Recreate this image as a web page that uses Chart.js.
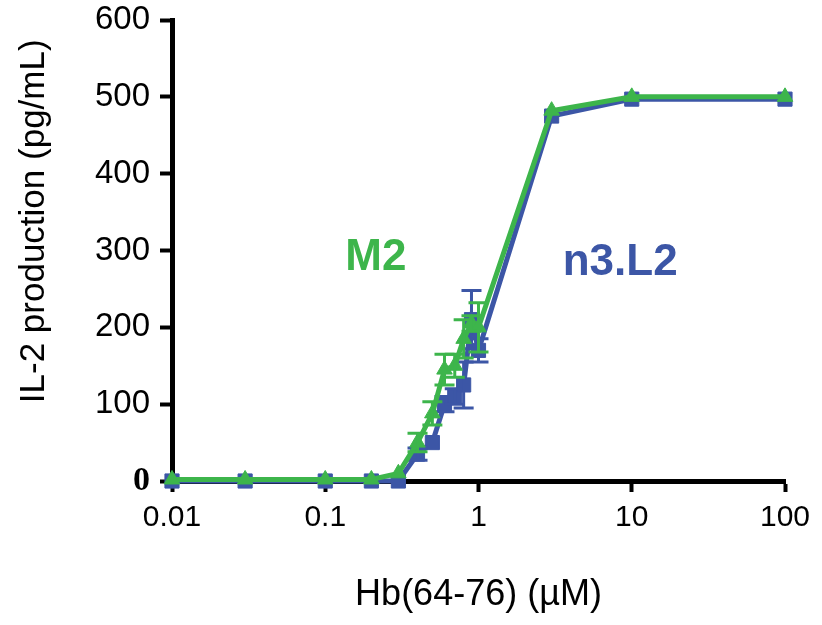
<!DOCTYPE html>
<html>
<head>
<meta charset="utf-8">
<script src="https://cdn.jsdelivr.net/npm/chart.js@4"></script>
<style>
  html, body { margin: 0; padding: 0; background: #fff; }
  #wrap { width: 822px; height: 625px; }
</style>
</head>
<body>
<div id="wrap"><canvas id="ilChart"></canvas></div>
<script>
  // concentrations (uM)
  const doses = [0.01, 0.03, 0.1, 0.2, 0.3, 0.4, 0.5, 0.6, 0.7, 0.8, 0.9, 1, 3, 10, 100];

  // IL-2 (pg/mL)
  const n3L2Values = [0, 0, 0, 0, 0, 35, 50, 100, 110, 125, 210, 170, 475, 497, 497];
  const n3L2Errors = [0, 0, 0, 0, 0, 8, 0, 10, 10, 30, 38, 15, 0, 0, 0];
  const m2Values = [2, 2, 2, 2, 10, 50, 88, 145, 150, 185, 205, 200, 482, 500, 500];
  const m2Errors = [0, 0, 0, 0, 0, 12, 15, 20, 15, 25, 10, 32, 0, 0, 0];

  const xTicks = [0.01, 0.1, 1, 10, 100];
  const xTickLabels = ["0.01", "0.1", "1", "10", "100"];

  const blue = "#3c56a6";
  const green = "#3db54b";
  const sans = "'Liberation Sans', Arial, sans-serif";

  function toPoints(vals) {
    return doses.map((d, i) => ({ x: d, y: vals[i] }));
  }

  // error bars, drawn with the chart's own scales
  const errorBars = {
    id: "errorBars",
    afterDatasetDraw(chart, args) {
      const ds = chart.data.datasets[args.index];
      if (!ds.errors) return;
      const xs = chart.scales.x, ys = chart.scales.y;
      const ctx = chart.ctx;
      ctx.save();
      ctx.strokeStyle = ds.borderColor;
      ctx.lineWidth = 3;
      ds.data.forEach((p, i) => {
        const e = ds.errors[i];
        if (!e) return;
        const px = xs.getPixelForValue(p.x);
        const top = ys.getPixelForValue(p.y + e);
        const bot = ys.getPixelForValue(p.y - e);
        ctx.beginPath();
        ctx.moveTo(px, top); ctx.lineTo(px, bot);
        ctx.moveTo(px - 10, top); ctx.lineTo(px + 10, top);
        ctx.moveTo(px - 10, bot); ctx.lineTo(px + 10, bot);
        ctx.stroke();
      });
      ctx.restore();
    }
  };

  // series names inside the plot + y axis title
  const textLayer = {
    id: "textLayer",
    afterDraw(chart) {
      const xs = chart.scales.x, ys = chart.scales.y;
      const ctx = chart.ctx;
      ctx.save();
      ctx.font = "bold 44px " + sans;
      ctx.textAlign = "center";
      ctx.textBaseline = "middle";
      ctx.fillStyle = green;
      ctx.fillText("M2", xs.getPixelForValue(0.214), ys.getPixelForValue(290));
      ctx.fillStyle = blue;
      ctx.fillText("n3.L2", xs.getPixelForValue(8.4), ys.getPixelForValue(284));

      ctx.fillStyle = "#000";
      ctx.font = "35px " + sans;
      ctx.translate(34, ys.getPixelForValue(338));
      ctx.rotate(-Math.PI / 2);
      ctx.fillText("IL-2 production (pg/mL)", 0, 0);
      ctx.restore();
    }
  };

  const ctx = document.getElementById("ilChart").getContext("2d");
  new Chart(ctx, {
    type: "line",
    data: {
      datasets: [
        {
          label: "M2",
          data: toPoints(m2Values),
          errors: m2Errors,
          borderColor: green,
          backgroundColor: green,
          borderWidth: 5,
          pointStyle: "triangle",
          pointRadius: 9,
          pointBorderWidth: 1,
          tension: 0,
          clip: false,
          order: 0
        },
        {
          label: "n3.L2",
          data: toPoints(n3L2Values),
          errors: n3L2Errors,
          borderColor: blue,
          backgroundColor: blue,
          borderWidth: 5,
          pointStyle: "rect",
          pointRadius: 10,
          pointBorderWidth: 1,
          tension: 0,
          clip: false,
          order: 1
        }
      ]
    },
    options: {
      responsive: true,
      maintainAspectRatio: false,
      animation: false,
      layout: { padding: { left: 0, top: 20, right: 37, bottom: 8 } },
      plugins: {
        legend: { display: false },
        tooltip: { enabled: false }
      },
      scales: {
        x: {
          type: "logarithmic",
          min: 0.01,
          max: 100,
          afterBuildTicks(scale) {
            scale.ticks = xTicks.map(v => ({ value: v }));
          },
          afterFit(scale) { scale.height = 136; },
          border: { display: true, color: "#000", width: 5 },
          grid: { drawOnChartArea: false, color: "#000", tickLength: 11, tickWidth: 4 },
          ticks: {
            color: "#000",
            padding: 8,
            maxRotation: 0,
            autoSkip: false,
            font: { family: sans, size: 30 },
            callback: (v, i) => xTickLabels[i]
          },
          title: {
            display: true,
            text: "Hb(64-76) (µM)",
            color: "#000",
            font: { family: sans, size: 36 },
            padding: { top: 0, bottom: 0 }
          }
        },
        y: {
          min: 0,
          max: 600,
          afterFit(scale) {
            scale.width = 172;
            scale.paddingTop = 0;
            scale.paddingBottom = 0;
          },
          border: { display: true, color: "#000", width: 5 },
          grid: { drawOnChartArea: false, color: "#000", tickLength: 12, tickWidth: 4 },
          ticks: {
            stepSize: 100,
            color: "#000",
            padding: 10,
            font: (c) => c.tick && c.tick.value === 0
              ? { family: "'Liberation Serif', 'Times New Roman', serif", size: 34, weight: "bold" }
              : { family: sans, size: 33 }
          }
        }
      }
    },
    plugins: [errorBars, textLayer]
  });
</script>
</body>
</html>
